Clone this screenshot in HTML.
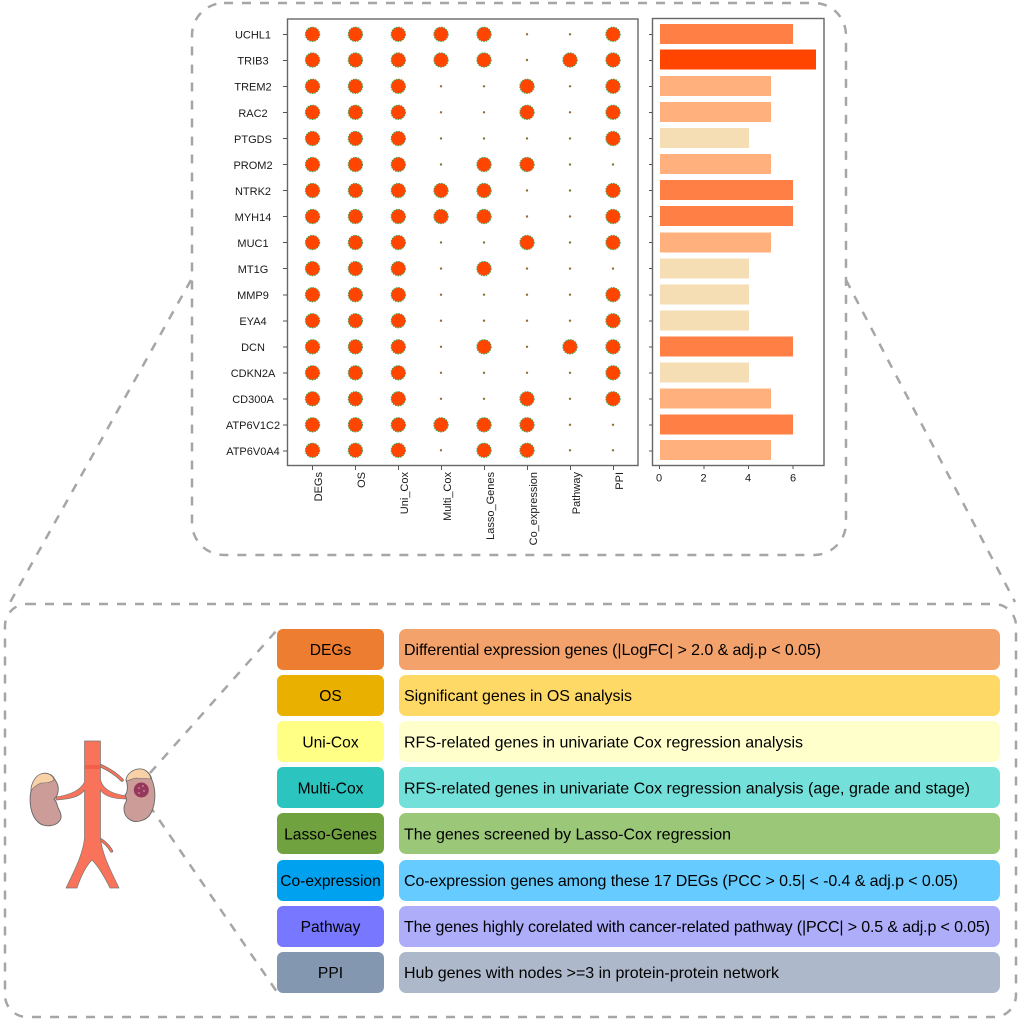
<!DOCTYPE html>
<html>
<head>
<meta charset="utf-8">
<style>
html,body{margin:0;padding:0;background:#fff}
svg{display:block}
text{font-family:"Liberation Sans",Arial,sans-serif;fill:#1a1a1a}
.g{font-size:11px;text-anchor:middle}
.x{font-size:11px;text-anchor:end}
.t{font-size:11px;text-anchor:middle}
.k{font-size:15.6px;text-anchor:middle;fill:#000}
.d{font-size:16px;fill:#000}
.dash{fill:none;stroke:#a6a6a6;stroke-width:2.5;stroke-dasharray:9 9}
</style>
</head>
<body>
<svg xmlns="http://www.w3.org/2000/svg" width="1020" height="1021" viewBox="0 0 1020 1021">
<defs>
<g id="b"><circle r="7" fill="#ff4500"/><circle r="7.2" fill="none" stroke="#3f9f4f" stroke-width=".9" stroke-dasharray="1.6 1"/></g>
<g id="s"><circle r="1.2" fill="#3f9f4f"/><circle r=".8" fill="#e8401a"/></g>
<g id="h"><use href="#b" x="312.5"/><use href="#b" x="355.4"/><use href="#b" x="398.3"/></g>
</defs>
<rect width="1020" height="1021" fill="#fff"/>

<!-- dashed frames -->
<rect class="dash" x="192" y="3" width="654" height="552" rx="32"/>
<rect class="dash" x="5" y="604" width="1011" height="413" rx="22"/>
<line class="dash" x1="191" y1="280" x2="8" y2="606"/>
<line class="dash" x1="846" y1="280" x2="1015" y2="602"/>
<line class="dash" x1="150" y1="773" x2="277" y2="630"/>
<line class="dash" x1="149" y1="805" x2="277" y2="992"/>

<!-- dot plot frame -->
<rect x="287.5" y="19" width="350.5" height="446.5" fill="#fff" stroke="#666" stroke-width="1.4"/>
<rect x="652.5" y="18.5" width="171.5" height="447" fill="#fff" stroke="#666" stroke-width="1.4"/>

<!-- y ticks -->
<path stroke="#555" stroke-width="1" fill="none" d="M283,34.5h4M283,60.5h4M283,86.5h4M283,112.5h4M283,138.5h4M283,164.5h4M283,190.5h4M283,216.5h4M283,242.5h4M283,268.5h4M283,295h4M283,321h4M283,347h4M283,373h4M283,399h4M283,425h4M283,451h4
M649,34.5h3M649,60.5h3M649,86.5h3M649,112.5h3M649,138.5h3M649,164.5h3M649,190.5h3M649,216.5h3M649,242.5h3M649,268.5h3M649,295h3M649,321h3M649,347h3M649,373h3M649,399h3M649,425h3M649,451h3
M312.5,466v4M355.5,466v4M398.5,466v4M441.5,466v4M484.5,466v4M527.5,466v4M570.5,466v4M613.5,466v4
M659.5,466v3M704,466v3M748.5,466v3M793,466v3"/>

<!-- gene labels -->
<text class="g" x="253" y="38.5">UCHL1</text>
<text class="g" x="253" y="64.5">TRIB3</text>
<text class="g" x="253" y="90.5">TREM2</text>
<text class="g" x="253" y="117">RAC2</text>
<text class="g" x="253" y="143">PTGDS</text>
<text class="g" x="253" y="169">PROM2</text>
<text class="g" x="253" y="195">NTRK2</text>
<text class="g" x="253" y="221">MYH14</text>
<text class="g" x="253" y="247">MUC1</text>
<text class="g" x="253" y="273">MT1G</text>
<text class="g" x="253" y="299">MMP9</text>
<text class="g" x="253" y="325">EYA4</text>
<text class="g" x="253" y="351">DCN</text>
<text class="g" x="253" y="377">CDKN2A</text>
<text class="g" x="253" y="403">CD300A</text>
<text class="g" x="253" y="429">ATP6V1C2</text>
<text class="g" x="253" y="455">ATP6V0A4</text>

<!-- dots -->
<g transform="translate(0,34.3)"><use href="#h"/><use href="#b" x="441"/><use href="#b" x="484"/><use href="#s" x="527"/><use href="#s" x="570"/><use href="#b" x="613"/></g>
<g transform="translate(0,60)"><use href="#h"/><use href="#b" x="441"/><use href="#b" x="484"/><use href="#s" x="527"/><use href="#b" x="570"/><use href="#b" x="613"/></g>
<g transform="translate(0,86.3)"><use href="#h"/><use href="#s" x="441"/><use href="#s" x="484"/><use href="#b" x="527"/><use href="#s" x="570"/><use href="#b" x="613"/></g>
<g transform="translate(0,112.3)"><use href="#h"/><use href="#s" x="441"/><use href="#s" x="484"/><use href="#b" x="527"/><use href="#s" x="570"/><use href="#b" x="613"/></g>
<g transform="translate(0,138.5)"><use href="#h"/><use href="#s" x="441"/><use href="#s" x="484"/><use href="#s" x="527"/><use href="#s" x="570"/><use href="#b" x="613"/></g>
<g transform="translate(0,164.5)"><use href="#h"/><use href="#s" x="441"/><use href="#b" x="484"/><use href="#b" x="527"/><use href="#s" x="570"/><use href="#s" x="613"/></g>
<g transform="translate(0,190.5)"><use href="#h"/><use href="#b" x="441"/><use href="#b" x="484"/><use href="#s" x="527"/><use href="#s" x="570"/><use href="#b" x="613"/></g>
<g transform="translate(0,216.5)"><use href="#h"/><use href="#b" x="441"/><use href="#b" x="484"/><use href="#s" x="527"/><use href="#s" x="570"/><use href="#b" x="613"/></g>
<g transform="translate(0,242.5)"><use href="#h"/><use href="#s" x="441"/><use href="#s" x="484"/><use href="#b" x="527"/><use href="#s" x="570"/><use href="#b" x="613"/></g>
<g transform="translate(0,268.6)"><use href="#h"/><use href="#s" x="441"/><use href="#b" x="484"/><use href="#s" x="527"/><use href="#s" x="570"/><use href="#s" x="613"/></g>
<g transform="translate(0,294.7)"><use href="#h"/><use href="#s" x="441"/><use href="#s" x="484"/><use href="#s" x="527"/><use href="#s" x="570"/><use href="#b" x="613"/></g>
<g transform="translate(0,320.7)"><use href="#h"/><use href="#s" x="441"/><use href="#s" x="484"/><use href="#s" x="527"/><use href="#s" x="570"/><use href="#b" x="613"/></g>
<g transform="translate(0,346.8)"><use href="#h"/><use href="#s" x="441"/><use href="#b" x="484"/><use href="#s" x="527"/><use href="#b" x="570"/><use href="#b" x="613"/></g>
<g transform="translate(0,372.8)"><use href="#h"/><use href="#s" x="441"/><use href="#s" x="484"/><use href="#s" x="527"/><use href="#s" x="570"/><use href="#b" x="613"/></g>
<g transform="translate(0,398.8)"><use href="#h"/><use href="#s" x="441"/><use href="#s" x="484"/><use href="#b" x="527"/><use href="#s" x="570"/><use href="#b" x="613"/></g>
<g transform="translate(0,424.8)"><use href="#h"/><use href="#b" x="441"/><use href="#b" x="484"/><use href="#b" x="527"/><use href="#s" x="570"/><use href="#s" x="613"/></g>
<g transform="translate(0,450.3)"><use href="#h"/><use href="#s" x="441"/><use href="#b" x="484"/><use href="#b" x="527"/><use href="#s" x="570"/><use href="#s" x="613"/></g>

<!-- rotated x labels -->
<text class="x" transform="translate(322,472) rotate(-90)">DEGs</text>
<text class="x" transform="translate(365,472) rotate(-90)">OS</text>
<text class="x" transform="translate(408,472) rotate(-90)">Uni_Cox</text>
<text class="x" transform="translate(451,472) rotate(-90)">Multi_Cox</text>
<text class="x" transform="translate(494,472) rotate(-90)">Lasso_Genes</text>
<text class="x" transform="translate(537,472) rotate(-90)">Co_expression</text>
<text class="x" transform="translate(580,472) rotate(-90)">Pathway</text>
<text class="x" transform="translate(623,472) rotate(-90)">PPI</text>

<!-- bars -->
<rect x="660" y="24" width="133" height="20" fill="#ff7f45"/>
<rect x="660" y="49.5" width="156" height="20" fill="#ff4500"/>
<rect x="660" y="76" width="111" height="20" fill="#ffb07c"/>
<rect x="660" y="102" width="111" height="20" fill="#ffb07c"/>
<rect x="660" y="128" width="89" height="20" fill="#f5deb3"/>
<rect x="660" y="154" width="111" height="20" fill="#ffb07c"/>
<rect x="660" y="180" width="133" height="20" fill="#ff7f45"/>
<rect x="660" y="206" width="133" height="20" fill="#ff7f45"/>
<rect x="660" y="232.5" width="111" height="20" fill="#ffb07c"/>
<rect x="660" y="258.5" width="89" height="20" fill="#f5deb3"/>
<rect x="660" y="284.5" width="89" height="20" fill="#f5deb3"/>
<rect x="660" y="310.5" width="89" height="20" fill="#f5deb3"/>
<rect x="660" y="336.5" width="133" height="20" fill="#ff7f45"/>
<rect x="660" y="362.5" width="89" height="20" fill="#f5deb3"/>
<rect x="660" y="388.5" width="111" height="20" fill="#ffb07c"/>
<rect x="660" y="414.5" width="133" height="20" fill="#ff7f45"/>
<rect x="660" y="440" width="111" height="20" fill="#ffb07c"/>
<text class="t" x="659" y="481.5">0</text>
<text class="t" x="703.5" y="481.5">2</text>
<text class="t" x="748" y="481.5">4</text>
<text class="t" x="793" y="481.5">6</text>

<!-- legend rows -->
<rect x="277" y="629" width="107" height="41" rx="6" fill="#ed7d31"/>
<rect x="399" y="629" width="601" height="41" rx="7" fill="#f3a26c"/>
<text class="k" x="330.5" y="655">DEGs</text>
<text class="d" x="404" y="655" textLength="417" lengthAdjust="spacing">Differential expression genes (|LogFC| &gt; 2.0 &amp; adj.p &lt; 0.05)</text>

<rect x="277" y="675" width="107" height="41" rx="6" fill="#e9b000"/>
<rect x="399" y="675" width="601" height="41" rx="7" fill="#ffd966"/>
<text class="k" x="330.5" y="701">OS</text>
<text class="d" x="404" y="701" textLength="228" lengthAdjust="spacing">Significant genes in OS analysis</text>

<rect x="277" y="721" width="107" height="41" rx="6" fill="#ffff85"/>
<rect x="399" y="721" width="601" height="41" rx="7" fill="#ffffcc"/>
<text class="k" x="330.5" y="747.5">Uni-Cox</text>
<text class="d" x="404" y="747.5" textLength="399" lengthAdjust="spacing">RFS-related genes in univariate Cox regression analysis</text>

<rect x="277" y="767" width="107" height="41" rx="6" fill="#2bc4bf"/>
<rect x="399" y="767" width="601" height="41" rx="7" fill="#73e0da"/>
<text class="k" x="330.5" y="793.5">Multi-Cox</text>
<text class="d" x="404" y="793.5" textLength="566" lengthAdjust="spacing">RFS-related genes in univariate Cox regression analysis (age, grade and stage)</text>

<rect x="277" y="813" width="107" height="41" rx="6" fill="#70a33f"/>
<rect x="399" y="813" width="601" height="41" rx="7" fill="#9bc878"/>
<text class="k" x="330.5" y="839.5">Lasso-Genes</text>
<text class="d" x="404" y="839.5" textLength="327" lengthAdjust="spacing">The genes screened by Lasso-Cox regression</text>

<rect x="277" y="860" width="107" height="41" rx="6" fill="#00a2f0"/>
<rect x="399" y="860" width="601" height="41" rx="7" fill="#66ccff"/>
<text class="k" x="330.5" y="886">Co-expression</text>
<text class="d" x="404" y="886" textLength="554" lengthAdjust="spacing">Co-expression genes among these 17 DEGs (PCC &gt; 0.5| &lt; -0.4 &amp; adj.p &lt; 0.05)</text>

<rect x="277" y="906" width="107" height="41" rx="6" fill="#7777ff"/>
<rect x="399" y="906" width="601" height="41" rx="7" fill="#adadfa"/>
<text class="k" x="330.5" y="932">Pathway</text>
<text class="d" x="404" y="932" textLength="586" lengthAdjust="spacing">The genes highly corelated with cancer-related pathway (|PCC| &gt; 0.5 &amp; adj.p &lt; 0.05)</text>

<rect x="277" y="952" width="107" height="41" rx="6" fill="#8497b0"/>
<rect x="399" y="952" width="601" height="41" rx="7" fill="#adb9ca"/>
<text class="k" x="330.5" y="978">PPI</text>
<text class="d" x="404" y="978" textLength="375" lengthAdjust="spacing">Hub genes with nodes &gt;=3 in protein-protein network</text>

<!-- anatomy -->
<g stroke-linejoin="round" stroke-linecap="round">
<path d="M94,763C105,767 115,773 122,780" fill="none" stroke="#666" stroke-width="3.4"/>
<path d="M94,763C105,767 115,773 122,780" fill="none" stroke="#f8735a" stroke-width="2.2"/>
<path d="M95,837C103,840 108,845 111.500,851" fill="none" stroke="#666" stroke-width="3.2"/>
<path d="M95,837C103,840 108,845 111.500,851" fill="none" stroke="#f8735a" stroke-width="2"/>
<path d="M84.5,741H100.500V780C103,790 113,794 127,796V799C112,799 104,796 100.500,790V838C102,855 112,873 119,888H110C104,876 98,866 92,860C86,866 81,876 77,888H66C73,873 83,855 84.5,838V790C80,797 70,799 56,800V797C70,795 81,790 84.5,782Z" fill="#f8735a" stroke="#777" stroke-width=".7"/>
<path d="M85,765H100V769H85Z" fill="#f0503a" opacity=".6"/>

<path d="M31,791C29,800 30,815 38,822C44,828 58,827 61,818C62,812 57,808 57,804C56,801 55,800 54,799C57,797 59,792 58,786C57,782 55,780 54,778C52,774 45,772 41,774C35,776 31,784 31,791Z" fill="#cb9c98" stroke="#666" stroke-width=".9"/>
<path d="M31,791C31,784 35,776 41,774C47,772 53,775 54,780C50,783 45,783 41,783C36,785 33,788 31,791Z" fill="#f8d2a6" stroke="#666" stroke-width=".6"/>

<path d="M126,780C127,773 134,769 140,769C147,769 151,775 152,780C156,790 156,803 151,813C147,821 135,824 129,819C123,815 123,806 126,802C127,799 126,797 125,795C128,792 128,785 126,780Z" fill="#cb9c98" stroke="#666" stroke-width=".9"/>
<path d="M126,780C127,773 134,769 140,769C146,769 150,774 151,779C146,778 142,779 137,778C133,778 130,780 127,781Z" fill="#f8d2a6" stroke="#666" stroke-width=".6"/>
<circle cx="141.300" cy="790" r="7.500" fill="#96385c"/>
<circle cx="139" cy="788" r="1" fill="#c77a96"/><circle cx="143" cy="786" r="1" fill="#c77a96"/><circle cx="144" cy="791" r="1" fill="#c77a96"/><circle cx="139" cy="793" r="1" fill="#c77a96"/>
</g>
</svg>
</body>
</html>
